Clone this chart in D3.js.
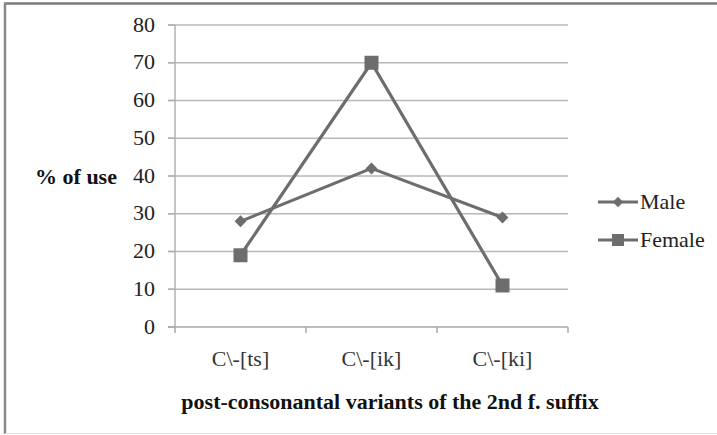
<!DOCTYPE html>
<html><head><meta charset="utf-8">
<script src="https://cdn.jsdelivr.net/npm/d3@7"></script>
<style>html,body{margin:0;padding:0;background:#fff;} text{font-family:"Liberation Serif";}</style>
</head><body>
<svg id="c" width="717" height="435"></svg>
<script>
const categories = ["C\\-[ts]", "C\\-[ik]", "C\\-[ki]"];
const maleValues = [28, 42, 29];
const femaleValues = [19, 70, 11];
const yTicks = [0, 10, 20, 30, 40, 50, 60, 70, 80];
const seriesNames = ["Male", "Female"];

const svg = d3.select("#c");
const col = "#6d6d6d";
const fs = 20;
const sx = 1.1; // horizontal stretch of text as in the reference

function stretched(sel, x, y){
  sel.attr("transform", `translate(${x},${y}) scale(${sx},1)`);
}

// border
svg.append("line").attr("x1",4).attr("x2",717).attr("y1",3.5).attr("y2",3.5).attr("stroke","#7a7a7a").attr("stroke-width",2.5);
svg.append("line").attr("x1",5).attr("x2",5).attr("y1",3).attr("y2",434).attr("stroke","#8a8a8a").attr("stroke-width",2.5);
svg.append("line").attr("x1",5).attr("x2",717).attr("y1",433.5).attr("y2",433.5).attr("stroke","#e2e2e2").attr("stroke-width",1);

const x = d3.scaleBand().domain(categories).range([175, 568]);
const y = d3.scaleLinear().domain([0, 80]).range([327, 25]);

svg.append("g").selectAll("line").data(yTicks.filter(d=>d>0)).join("line")
  .attr("x1",168).attr("x2",568).attr("y1",d=>y(d)).attr("y2",d=>y(d))
  .attr("stroke","#b8b8b8").attr("stroke-width",1.5);

svg.append("line").attr("x1",175).attr("x2",175).attr("y1",y(80)).attr("y2",y(0)).attr("stroke","#b0b0b0").attr("stroke-width",1.5);
svg.append("g").selectAll("line").data(yTicks).join("line")
  .attr("x1",168).attr("x2",175).attr("y1",d=>y(d)).attr("y2",d=>y(d)).attr("stroke","#b0b0b0").attr("stroke-width",1.5);
svg.append("g").selectAll("text").data(yTicks).join("text")
  .attr("transform",d=>`translate(155,${y(d)+6.5}) scale(${sx},1)`).attr("text-anchor","end")
  .attr("font-size",fs).attr("fill","#222").text(d=>d);

svg.append("line").attr("x1",168).attr("x2",568).attr("y1",y(0)).attr("y2",y(0)).attr("stroke","#a8a8a8").attr("stroke-width",1.5);
const bounds = [175, ...categories.map(c=>x(c)+x.bandwidth())];
svg.append("g").selectAll("line").data(bounds).join("line")
  .attr("x1",d=>d).attr("x2",d=>d).attr("y1",y(0)).attr("y2",y(0)+6).attr("stroke","#a8a8a8").attr("stroke-width",1.5);
svg.append("g").selectAll("text").data(categories).join("text")
  .attr("transform",d=>`translate(${x(d)+x.bandwidth()/2},366) scale(${sx},1)`).attr("text-anchor","middle")
  .attr("font-size",fs).attr("fill","#333").text(d=>d);

stretched(svg.append("text").attr("text-anchor","middle")
  .attr("font-size",fs).attr("font-weight","bold").attr("fill","#111").text("% of use"), 76, 184);
stretched(svg.append("text").attr("text-anchor","middle")
  .attr("font-size",fs).attr("font-weight","bold").attr("fill","#111").text("post-consonantal variants of the 2nd f. suffix"), 390, 409);

const line = d3.line().x((d,i)=>x(categories[i])+x.bandwidth()/2).y(d=>y(d));

svg.append("path").datum(femaleValues).attr("d",line).attr("fill","none").attr("stroke",col).attr("stroke-width",3.2);
svg.append("path").datum(maleValues).attr("d",line).attr("fill","none").attr("stroke",col).attr("stroke-width",3);

const diamond = d3.symbol().type(d3.symbolDiamond2).size(90);
svg.append("g").selectAll("path").data(maleValues).join("path")
  .attr("d",diamond).attr("transform",(d,i)=>`translate(${x(categories[i])+x.bandwidth()/2},${y(d)})`)
  .attr("fill",col);
svg.append("g").selectAll("rect").data(femaleValues).join("rect")
  .attr("x",(d,i)=>x(categories[i])+x.bandwidth()/2-7).attr("y",d=>y(d)-7)
  .attr("width",14).attr("height",14).attr("fill",col);

const lg = svg.append("g");
const legY = [202, 240];
seriesNames.forEach((n,i)=>{
  lg.append("line").attr("x1",598).attr("x2",638).attr("y1",legY[i]).attr("y2",legY[i]).attr("stroke",col).attr("stroke-width",3);
  if(i===0){
    lg.append("path").attr("d",d3.symbol().type(d3.symbolDiamond2).size(70)).attr("transform",`translate(618,${legY[i]})`).attr("fill",col);
  } else {
    lg.append("rect").attr("x",612).attr("y",legY[i]-6).attr("width",12).attr("height",12).attr("fill",col);
  }
  stretched(lg.append("text").attr("font-size",fs).attr("fill","#222").text(n), 640, legY[i]+6.5);
});
</script>
</body></html>
